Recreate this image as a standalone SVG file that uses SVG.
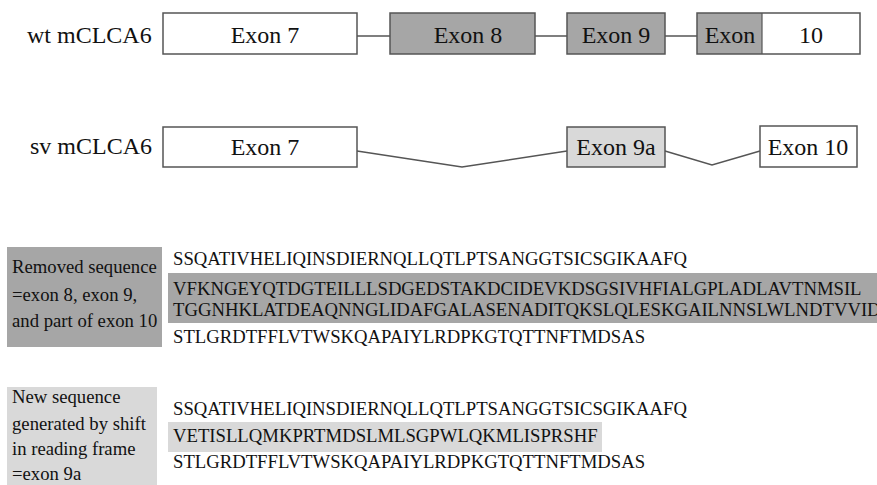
<svg xmlns="http://www.w3.org/2000/svg" width="877" height="485" viewBox="0 0 877 485">
<defs>
<style>
.box{stroke:#555;stroke-width:1.5}
.w{fill:#fff}
.d{fill:#a6a6a6}
.l{fill:#d9d9d9}
.con{fill:none;stroke:#555;stroke-width:1.5}
</style>
</defs>
<rect width="877" height="485" fill="#fff"/>
<g id="connectors">
<path class="con" d="M357 36H390M535 36H567M665 36H697"/>
<path class="con" d="M357 151L462 167L567 151M665 151L712 165L760 151"/>
</g>
<g id="wt-label"><text font-family="Liberation Serif" font-size="24" fill="#111" x="27" y="43">wt mCLCA6</text></g>
<g id="wt-exon7"><rect class="box w" x="163" y="13" width="194" height="41"/><text font-family="Liberation Serif" font-size="24" fill="#111" text-anchor="middle" x="265" y="43">Exon 7</text></g>
<g id="wt-exon8"><rect class="box d" x="390" y="13" width="145" height="41"/><text font-family="Liberation Serif" font-size="24" fill="#111" text-anchor="middle" x="468" y="43">Exon 8</text></g>
<g id="wt-exon9"><rect class="box d" x="567" y="13" width="98" height="41"/><text font-family="Liberation Serif" font-size="24" fill="#111" text-anchor="middle" x="616" y="43">Exon 9</text></g>
<g id="wt-exon10"><rect class="w" x="697" y="13" width="163" height="41"/><rect class="d" x="697" y="13" width="65" height="41"/><rect fill="none" class="box" x="697" y="13" width="163" height="41"/><line x1="762" y1="13" x2="762" y2="54" stroke="#555" stroke-width="1.2"/><text font-family="Liberation Serif" font-size="24" fill="#111" text-anchor="middle" x="730" y="43">Exon</text><text font-family="Liberation Serif" font-size="24" fill="#111" text-anchor="middle" x="811" y="43">10</text></g>
<g id="sv-label"><text font-family="Liberation Serif" font-size="24" fill="#111" x="30" y="154">sv mCLCA6</text></g>
<g id="sv-exon7"><rect class="box w" x="163" y="127" width="194" height="40"/><text font-family="Liberation Serif" font-size="24" fill="#111" text-anchor="middle" x="265" y="155">Exon 7</text></g>
<g id="sv-exon9a"><rect class="box l" x="567" y="127" width="98" height="40"/><text font-family="Liberation Serif" font-size="24" fill="#111" text-anchor="middle" x="616" y="155">Exon 9a</text></g>
<g id="sv-exon10"><rect class="box w" x="760" y="126" width="97" height="41"/><text font-family="Liberation Serif" font-size="24" fill="#111" text-anchor="middle" x="808" y="155">Exon 10</text></g>
<g id="removed">
<rect class="d" x="7" y="247" width="155" height="100"/>
<text font-family="Liberation Serif" font-size="18.7" fill="#111" x="12" y="273">Removed sequence</text>
<text font-family="Liberation Serif" font-size="18.7" fill="#111" x="12" y="301">=exon 8, exon 9,</text>
<text font-family="Liberation Serif" font-size="18.7" fill="#111" x="12" y="327">and part of exon 10</text>
<rect class="d" x="168" y="273" width="709" height="50"/>
<text font-family="Liberation Serif" font-size="18.7" fill="#111" x="173" y="265">SSQATIVHELIQINSDIERNQLLQTLPTSANGGTSICSGIKAAFQ</text>
<text font-family="Liberation Serif" font-size="18.7" fill="#111" x="173" y="295">VFKNGEYQTDGTEILLLSDGEDSTAKDCIDEVKDSGSIVHFIALGPLADLAVTNMSIL</text>
<text font-family="Liberation Serif" font-size="18.7" fill="#111" x="173" y="316">TGGNHKLATDEAQNNGLIDAFGALASENADITQKSLQLESKGAILNNSLWLNDTVVID</text>
<text font-family="Liberation Serif" font-size="18.7" fill="#111" x="173" y="343">STLGRDTFFLVTWSKQAPAIYLRDPKGTQTTNFTMDSAS</text>
</g>
<g id="new">
<rect class="l" x="7" y="387" width="150" height="98"/>
<text font-family="Liberation Serif" font-size="18.7" fill="#111" x="12" y="403">New sequence</text>
<text font-family="Liberation Serif" font-size="18.7" fill="#111" x="12" y="430">generated by shift</text>
<text font-family="Liberation Serif" font-size="18.7" fill="#111" x="12" y="455">in reading frame</text>
<text font-family="Liberation Serif" font-size="18.7" fill="#111" x="12" y="480">=exon 9a</text>
<rect class="l" x="168" y="422" width="434" height="30"/>
<text font-family="Liberation Serif" font-size="18.7" fill="#111" x="173" y="415">SSQATIVHELIQINSDIERNQLLQTLPTSANGGTSICSGIKAAFQ</text>
<text font-family="Liberation Serif" font-size="18.7" fill="#111" x="173" y="442">VETISLLQMKPRTMDSLMLSGPWLQKMLISPRSHF</text>
<text font-family="Liberation Serif" font-size="18.7" fill="#111" x="173" y="468">STLGRDTFFLVTWSKQAPAIYLRDPKGTQTTNFTMDSAS</text>
</g>
</svg>
